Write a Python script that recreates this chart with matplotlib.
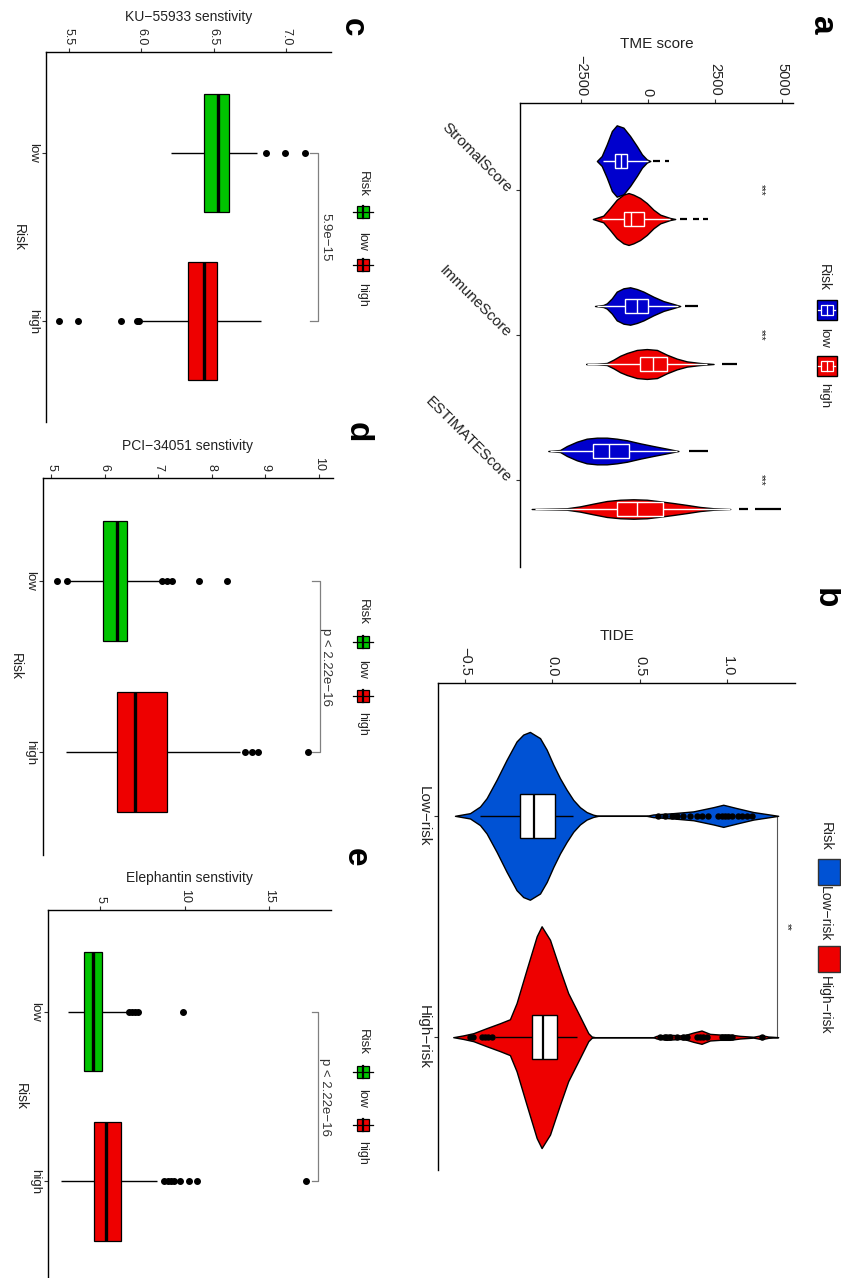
import matplotlib
matplotlib.use("Agg")
import matplotlib.pyplot as plt
from matplotlib.patches import Rectangle

plt.rcParams['font.family'] = ['Liberation Sans', 'DejaVu Sans']

# ---------------- panel a: TME score violins ----------------
TME_CATS = ["StromalScore", "ImmuneScore", "ESTIMATEScore"]
TME_TICKS = [-2500, 0, 2500, 5000]
TME_TICKLABELS = ["\u22122500", "0", "2500", "5000"]

# violin outlines: score grid and half-width
STROMAL_LOW_X = [-1900, -1720, -1530, -1340, -1160, -910, -660, -410, -220, -40, 90]
STROMAL_LOW_W = [0, 0.034, 0.115, 0.207, 0.246, 0.23, 0.172, 0.103, 0.046, 0.011, 0]
STROMAL_HIGH_X = [-2050, -1660, -1410, -1160, -910, -720, -540, -290, -40, 210, 460, 830, 1020]
STROMAL_HIGH_W = [0, 0.023, 0.076, 0.133, 0.168, 0.179, 0.168, 0.145, 0.11, 0.064, 0.03, 0.007, 0]
IMMUNE_LOW_X = [-1970, -1660, -1530, -1340, -1160, -910, -660, -410, -160, 210, 580, 955, 1205]
IMMUNE_LOW_W = [0, 0.007, 0.018, 0.053, 0.099, 0.122, 0.129, 0.117, 0.099, 0.064, 0.034, 0.014, 0]
IMMUNE_HIGH_X = [-2300, -1900, -1530, -1280, -1030, -780, -410, -40, 340, 710, 1080, 1455, 1950, 2450]
IMMUNE_HIGH_W = [0, 0.002, 0.007, 0.03, 0.057, 0.076, 0.097, 0.103, 0.097, 0.064, 0.037, 0.018, 0.007, 0]
ESTIMATE_LOW_X = [-3710, -3270, -3020, -2650, -2280, -1900, -1530, -1160, -780, -290, 210, 710, 1140]
ESTIMATE_LOW_W = [0, 0.007, 0.034, 0.064, 0.085, 0.092, 0.092, 0.085, 0.074, 0.053, 0.034, 0.016, 0]
ESTIMATE_HIGH_X = [-4330, -3020, -2530, -2030, -1530, -1030, -540, -40, 460, 955, 1455, 1950, 2450, 3070]
ESTIMATE_HIGH_W = [0, 0.005, 0.018, 0.037, 0.055, 0.064, 0.067, 0.064, 0.053, 0.041, 0.028, 0.014, 0.005, 0]

# box stats per category: q1, median, q3, whisker low, whisker high
TME_BOX_LOW = [(-1220, -1000, -760, -1680, 0), (-850, -410, 20, -1900, 1140), (-2030, -1440, -720, -3650, 1080)]
TME_BOX_HIGH = [(-880, -630, -160, -1720, 810), (-310, 210, 730, -2280, 2200), (-1160, -390, 560, -4200, 3070)]
# sparse tail segments beyond the violin bodies
TME_TAIL_LOW = [[(210, 460), (645, 805)], [(1390, 1865)], [(1550, 2225)]]
TME_TAIL_HIGH = [[(1205, 1455), (1680, 1890), (2050, 2260)], [(2760, 3320)], [(3380, 3750), (4000, 4970)]]
TME_SIG = ["***", "***", "***"]

# ---------------- panel b: TIDE violins ----------------
TIDE_CATS = ["Low\u2212risk", "High\u2212risk"]
TIDE_TICKS = [-0.5, 0.0, 0.5, 1.0]
TIDE_TICKLABELS = ["\u22120.5", "0.0", "0.5", "1.0"]
TIDE_LOW_X = [-0.557, -0.471, -0.414, -0.376, -0.319, -0.262, -0.205, -0.167, -0.129, -0.071,
              -0.033, 0.005, 0.043, 0.081, 0.119, 0.157, 0.195, 0.233, 0.262, 0.538,
              0.576, 0.69, 0.805, 0.919, 0.976, 1.052, 1.148, 1.224, 1.29]
TIDE_LOW_W = [0, .012, .042, .080, .163, .253, .336, .367, .379, .351,
              .299, .231, .170, .118, .072, .039, .017, .005, 0, 0,
              .006, .012, .020, .039, .050, .035, .017, .008, 0]
TIDE_HIGH_X = [-0.567, -0.51, -0.452, -0.376, -0.3, -0.243, -0.205, -0.148, -0.09, -0.062,
               -0.014, 0.043, 0.09, 0.157, 0.205, 0.224, 0.243, 0.576, 0.595, 0.652,
               0.729, 0.767, 0.805, 0.852, 0.9, 0.957, 1.014, 1.071, 1.148, 1.195, 1.233, 1.29]
TIDE_HIGH_W = [0, .008, .018, .041, .063, .081, .154, .305, .456, .501,
               .440, .305, .199, .094, .018, .003, 0, 0, .006, .012,
               .008, .012, .021, .030, .015, .012, .012, .006, .002, .009, .003, 0]
TIDE_BOX = [(-0.186, -0.106, 0.014, -0.414, 0.119), (-0.119, -0.052, 0.024, -0.329, 0.138)]
TIDE_OUT_LOW = [0.605, 0.643, 0.681, 0.71, 0.748, 0.786, 0.824, 0.852, 0.89, 0.948,
                0.967, 0.986, 1.005, 1.024, 1.062, 1.081, 1.11, 1.138]
TIDE_OUT_HIGH = [-0.471, -0.452, -0.405, -0.386, -0.367, -0.348, 0.614, 0.643, 0.671, 0.71,
                 0.748, 0.767, 0.824, 0.843, 0.862, 0.881, 0.967, 0.986, 1.005, 1.024, 1.195]
TIDE_SIG = "**"

# ---------------- panels c-e: drug sensitivity boxplots ----------------
RISK_CATS = ["low", "high"]
KU_BOX = [(6.435, 6.53, 6.604, 6.203, 6.797), (6.32, 6.431, 6.521, 6.003, 6.827)]
KU_OUT = [[6.859, 6.992, 7.13], [5.432, 5.561, 5.858, 5.968, 5.986]]
KU_P = "5.9e\u221215"
PCI_BOX = [(5.968, 6.23, 6.406, 5.33, 7.03), (6.23, 6.562, 7.168, 5.281, 8.53)]
PCI_OUT = [[5.106, 5.29, 7.074, 7.156, 7.25, 7.762, 8.287], [8.625, 8.75, 8.86, 9.793]]
PCI_P = "p < 2.22e\u221216"
ELE_BOX = [(4.055, 4.57, 5.1, 3.09, 6.63), (4.6, 5.31, 6.24, 2.7, 8.38)]
ELE_OUT = [[6.67, 6.87, 7.06, 7.26, 9.88], [8.78, 8.98, 9.17, 9.37, 9.72, 10.27, 10.71, 17.17]]
ELE_P = "p < 2.22e\u221216"

BLUE_A = "#0000CD"
BLUE_B = "#0052D4"
RED = "#EE0000"
GREEN = "#00C400"
TXT = "#222222"

W, H = 841, 1278
fig = plt.figure(figsize=(W / 100, H / 100), dpi=100)


def px_axes(left, top, right, bottom):
    return fig.add_axes([left / W, 1 - bottom / H, (right - left) / W, (bottom - top) / H])


def setup(ax, xlim, ncat, ticks, ticklabels, title, tick_fs, title_fs):
    ax.set_xlim(*xlim)
    ax.set_ylim(ncat + 0.6, 0.4)
    ax.spines["right"].set_visible(False)
    ax.spines["bottom"].set_visible(False)
    ax.spines["top"].set_linewidth(1.0)
    ax.spines["left"].set_linewidth(1.0)
    ax.xaxis.tick_top()
    ax.xaxis.set_label_position("top")
    ax.set_xticks(ticks)
    ax.set_xticklabels(ticklabels, rotation=-90, fontsize=tick_fs, color=TXT)
    ax.set_xlabel(title, fontsize=title_fs, color=TXT, labelpad=5)
    ax.set_yticks(range(1, ncat + 1))
    ax.tick_params(length=3, width=0.8, pad=2, color="#333333")


def violin(ax, xs, ws, pos, color):
    lo = [pos - w for w in ws]
    hi = [pos + w for w in ws]
    ax.fill_between(xs, lo, hi, facecolor=color, edgecolor="black", lw=1.0, zorder=2)


def drug_box(ax, pos, stats, outl, color, hh=0.35):
    q1, med, q3, wlo, whi = stats
    ax.hlines(pos, wlo, q1, color="black", lw=1.0, zorder=1)
    ax.hlines(pos, q3, whi, color="black", lw=1.0, zorder=1)
    ax.add_patch(Rectangle((q1, pos - hh), q3 - q1, 2 * hh, facecolor=color,
                           edgecolor="black", lw=0.9, zorder=2))
    ax.vlines(med, pos - hh, pos + hh, color="black", lw=2.4, zorder=3)
    ax.plot(outl, [pos] * len(outl), "o", color="black", ms=4, zorder=4)


# ---------------- panel a ----------------
ax_a = px_axes(520, 103, 793, 567)
setup(ax_a, (-4765, 5410), 3, TME_TICKS, TME_TICKLABELS, "TME score", 10.5, 11)
ax_a.set_yticklabels(TME_CATS, rotation=-45, ha="right", va="center",
                     rotation_mode="anchor", fontsize=11, color=TXT)
ax_a.tick_params(axis="y", pad=5)
low_x = [STROMAL_LOW_X, IMMUNE_LOW_X, ESTIMATE_LOW_X]
low_w = [STROMAL_LOW_W, IMMUNE_LOW_W, ESTIMATE_LOW_W]
high_x = [STROMAL_HIGH_X, IMMUNE_HIGH_X, ESTIMATE_HIGH_X]
high_w = [STROMAL_HIGH_W, IMMUNE_HIGH_W, ESTIMATE_HIGH_W]
for i in range(3):
    c = i + 1
    for xs, ws, box, tails, pos, col in [
        (low_x[i], low_w[i], TME_BOX_LOW[i], TME_TAIL_LOW[i], c - 0.2, BLUE_A),
        (high_x[i], high_w[i], TME_BOX_HIGH[i], TME_TAIL_HIGH[i], c + 0.2, RED),
    ]:
        violin(ax_a, xs, ws, pos, col)
        q1, med, q3, wlo, whi = box
        ax_a.hlines(pos, wlo, q1, color="white", lw=1.0, zorder=3)
        ax_a.hlines(pos, q3, whi, color="white", lw=1.0, zorder=3)
        ax_a.add_patch(Rectangle((q1, pos - 0.05), q3 - q1, 0.1, facecolor=col,
                                 edgecolor="white", lw=1.0, zorder=3))
        ax_a.vlines(med, pos - 0.05, pos + 0.05, color="white", lw=1.0, zorder=4)
        for a, b in tails:
            ax_a.hlines(pos, a, b, color="black", lw=1.6, zorder=2)
    ax_a.text(4190, c, TME_SIG[i], rotation=-90, ha="center", va="center",
              fontsize=7, color=TXT)

# ---------------- panel b ----------------
ax_b = px_axes(438, 683, 795, 1170)
setup(ax_b, (-0.654, 1.386), 2, TIDE_TICKS, TIDE_TICKLABELS, "TIDE", 10.5, 11)
ax_b.set_yticklabels(TIDE_CATS, rotation=-90, va="center", fontsize=11, color=TXT)
for pos, xs, ws, box, outl, col in [
    (1, TIDE_LOW_X, TIDE_LOW_W, TIDE_BOX[0], TIDE_OUT_LOW, BLUE_B),
    (2, TIDE_HIGH_X, TIDE_HIGH_W, TIDE_BOX[1], TIDE_OUT_HIGH, RED),
]:
    violin(ax_b, xs, ws, pos, col)
    q1, med, q3, wlo, whi = box
    ax_b.hlines(pos, wlo, q1, color="black", lw=1.0, zorder=3)
    ax_b.hlines(pos, q3, whi, color="black", lw=1.0, zorder=3)
    ax_b.add_patch(Rectangle((q1, pos - 0.1), q3 - q1, 0.2, facecolor="white",
                             edgecolor="black", lw=1.0, zorder=3))
    ax_b.vlines(med, pos - 0.1, pos + 0.1, color="black", lw=1.6, zorder=4)
    ax_b.plot(outl, [pos] * len(outl), "o", color="black", ms=3.6, zorder=4)
ax_b.plot([1.25, 1.281, 1.281, 1.25], [1, 1, 2, 2], color="#555555", lw=0.8, zorder=1)
ax_b.text(1.338, 1.5, TIDE_SIG, rotation=-90, ha="center", va="center", fontsize=7, color=TXT)

# ---------------- panels c-e ----------------
drug_panels = [
    ((46, 52, 331, 422), (5.342, 7.31), [5.5, 6.0, 6.5, 7.0], ["5.5", "6.0", "6.5", "7.0"],
     "KU\u221255933 senstivity", KU_BOX, KU_OUT, KU_P, (7.165, 7.222, 7.27)),
    ((43, 478, 333, 855), (4.843, 10.27), [5, 6, 7, 8, 9, 10], ["5", "6", "7", "8", "9", "10"],
     "PCI\u221234051 senstivity", PCI_BOX, PCI_OUT, PCI_P, (9.875, 10.02, 10.14)),
    ((48, 910, 331, 1283), (1.91, 18.64), [5, 10, 15], ["5", "10", "15"],
     "Elephantin senstivity", ELE_BOX, ELE_OUT, ELE_P, (17.5, 17.9, 18.29)),
]
for rect, xlim, ticks, tl, title, boxes, outs, ptxt, br in drug_panels:
    ax = px_axes(*rect)
    setup(ax, xlim, 2, ticks, tl, title, 9, 10)
    ax.set_yticklabels(RISK_CATS, rotation=-90, va="center", fontsize=9.5, color=TXT)
    ax.set_ylabel("Risk", rotation=-90, fontsize=10, color=TXT, labelpad=6, va="center")
    drug_box(ax, 1, boxes[0], outs[0], GREEN)
    drug_box(ax, 2, boxes[1], outs[1], RED)
    ax.plot([br[0], br[1], br[1], br[0]], [1, 1, 2, 2], color="#808080", lw=0.9)
    ax.text(br[2], 1.5, ptxt, rotation=-90, ha="center", va="center", fontsize=9.5, color="#333333")

# ---------------- legends and panel letters (pixel overlay) ----------------
ov = fig.add_axes([0, 0, 1, 1])
ov.set_xlim(0, W)
ov.set_ylim(H, 0)
ov.axis("off")

# panel a legend
ov.text(824, 277, "Risk", rotation=-90, ha="center", va="center", fontsize=10, color=TXT)
for y0, col, lab, ly in [(300, BLUE_A, "low", 338), (356, RED, "high", 396)]:
    ov.add_patch(Rectangle((817, y0), 20, 20, facecolor=col, edgecolor="black", lw=1))
    ov.add_patch(Rectangle((821, y0 + 5), 12, 10, facecolor="none", edgecolor="white", lw=0.9))
    ov.plot([818.5, 821], [y0 + 10, y0 + 10], color="white", lw=0.9)
    ov.plot([833, 835.5], [y0 + 10, y0 + 10], color="white", lw=0.9)
    ov.plot([827, 827], [y0 + 5, y0 + 15], color="white", lw=0.9)
    ov.text(824, ly, lab, rotation=-90, ha="center", va="center", fontsize=9.5, color=TXT)

# panel b legend
ov.text(826, 836, "Risk", rotation=-90, ha="center", va="center", fontsize=10.5, color=TXT)
for y0, col, lab, ly in [(859, BLUE_B, "Low\u2212risk", 914), (946, RED, "High\u2212risk", 1005)]:
    ov.add_patch(Rectangle((818, y0), 22, 26, facecolor=col, edgecolor="#333333", lw=1))
    ov.text(825, ly, lab, rotation=-90, ha="center", va="center", fontsize=10, color=TXT)

# panels c-e legends
for ry, gy, ly, rk, hy in [(184, 212, 241, 265, 295), (612, 642, 669, 696, 724),
                           (1042, 1072, 1098, 1125, 1153)]:
    ov.text(363, ry, "Risk", rotation=-90, ha="center", va="center", fontsize=9.5, color=TXT)
    for yc, col in [(gy, GREEN), (rk, RED)]:
        ov.plot([353, 373], [yc, yc], color="black", lw=0.9)
        ov.add_patch(Rectangle((357, yc - 6), 12, 12, facecolor=col, edgecolor="black", lw=0.9))
        ov.plot([363, 363], [yc - 6, yc + 6], color="black", lw=1.6)
    ov.text(362, ly, "low", rotation=-90, ha="center", va="center", fontsize=9, color=TXT)
    ov.text(362, hy, "high", rotation=-90, ha="center", va="center", fontsize=9, color=TXT)

for x, y, letter in [(822, 25, "a"), (825, 598, "b"), (352, 27, "c"), (357, 432, "d"), (355, 857, "e")]:
    ov.text(x, y, letter, rotation=-90, ha="center", va="center", fontsize=24,
            fontweight="bold", color="black")

fig.savefig("out.png", dpi=100)
